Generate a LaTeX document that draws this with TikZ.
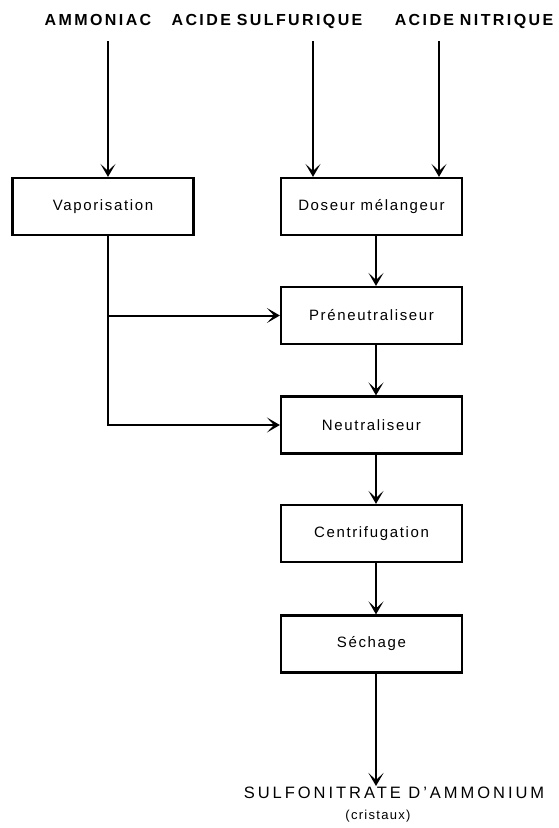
\documentclass[tikz,border=0pt]{standalone}
\usepackage{fontspec}
\setmainfont{Liberation Sans}
\usetikzlibrary{arrows.meta,calc}

\begin{document}
\begin{tikzpicture}[x=1pt,y=-1pt,
  box/.style={draw, line width=2.2pt, minimum width=181pt, minimum height=57pt,
    inner sep=0pt, font=\fontsize{15}{17}\selectfont\addfontfeatures{LetterSpace=11}},
  feed/.style={inner sep=0pt, anchor=base,
    font=\bfseries\fontsize{16}{18}\selectfont\addfontfeatures{LetterSpace=15}},
  product/.style={inner sep=0pt, anchor=base,
    font=\fontsize{16.5}{18}\selectfont\addfontfeatures{LetterSpace=18}},
  note/.style={inner sep=0pt, anchor=base,
    font=\fontsize{13}{15}\selectfont\addfontfeatures{LetterSpace=10}},
  flow/.style={line width=2pt, -{Stealth[length=13pt,width=15pt,inset=7pt]}}]
\useasboundingbox (0,0) rectangle (558,828);

% raw materials
\node[feed] (amm) at (98,25) {AMMONIAC};
\node[feed] (sul) at (267,25) {ACIDE\hspace{-1pt} SULFURIQUE};
\node[feed] (nit) at (474,25) {ACIDE\hspace{-1pt} NITRIQUE};
\coordinate (ammIn) at (108,41);
\coordinate (sulIn) at (313,41);
\coordinate (nitIn) at (439,41);

% process steps
\node[box] (vap) at (103,206.5) {Vaporisation};
\node[box] (dos) at (371.5,206.5) {Doseur mélangeur};
\node[box] (pre) at (371.5,315.5) {Préneutraliseur};
\node[box] (neu) at (371.5,425) {Neutraliseur};
\node[box] (cen) at (371.5,533.5) {Centrifugation};
\node[box] (sec) at (371.5,644) {Séchage};

% final product
\node[product] (prod) at (394,798) {SULFONITRATE D'AMMONIUM};
\node[note] (cri) at (378,819) {(cristaux)};
\coordinate (outEnd) at (376,786);

% feeds into the first steps
\draw[flow] (ammIn) -- (ammIn |- vap.north);
\draw[flow] (sulIn) -- (sulIn |- dos.north);
\draw[flow] (nitIn) -- (nitIn |- dos.north);

% ammonia vapour to both neutralisers
\draw[flow] (ammIn |- vap.south) |- (neu.west);
\draw[flow] (ammIn |- pre.west) -- (pre.west);

% main line
\draw[flow] ([xshift=4.5pt]dos.south) -- ([xshift=4.5pt]pre.north);
\draw[flow] ([xshift=4.5pt]pre.south) -- ([xshift=4.5pt]neu.north);
\draw[flow] ([xshift=4.5pt]neu.south) -- ([xshift=4.5pt]cen.north);
\draw[flow] ([xshift=4.5pt]cen.south) -- ([xshift=4.5pt]sec.north);
\draw[flow] ([xshift=4.5pt]sec.south) -- (outEnd);
\end{tikzpicture}
\end{document}
